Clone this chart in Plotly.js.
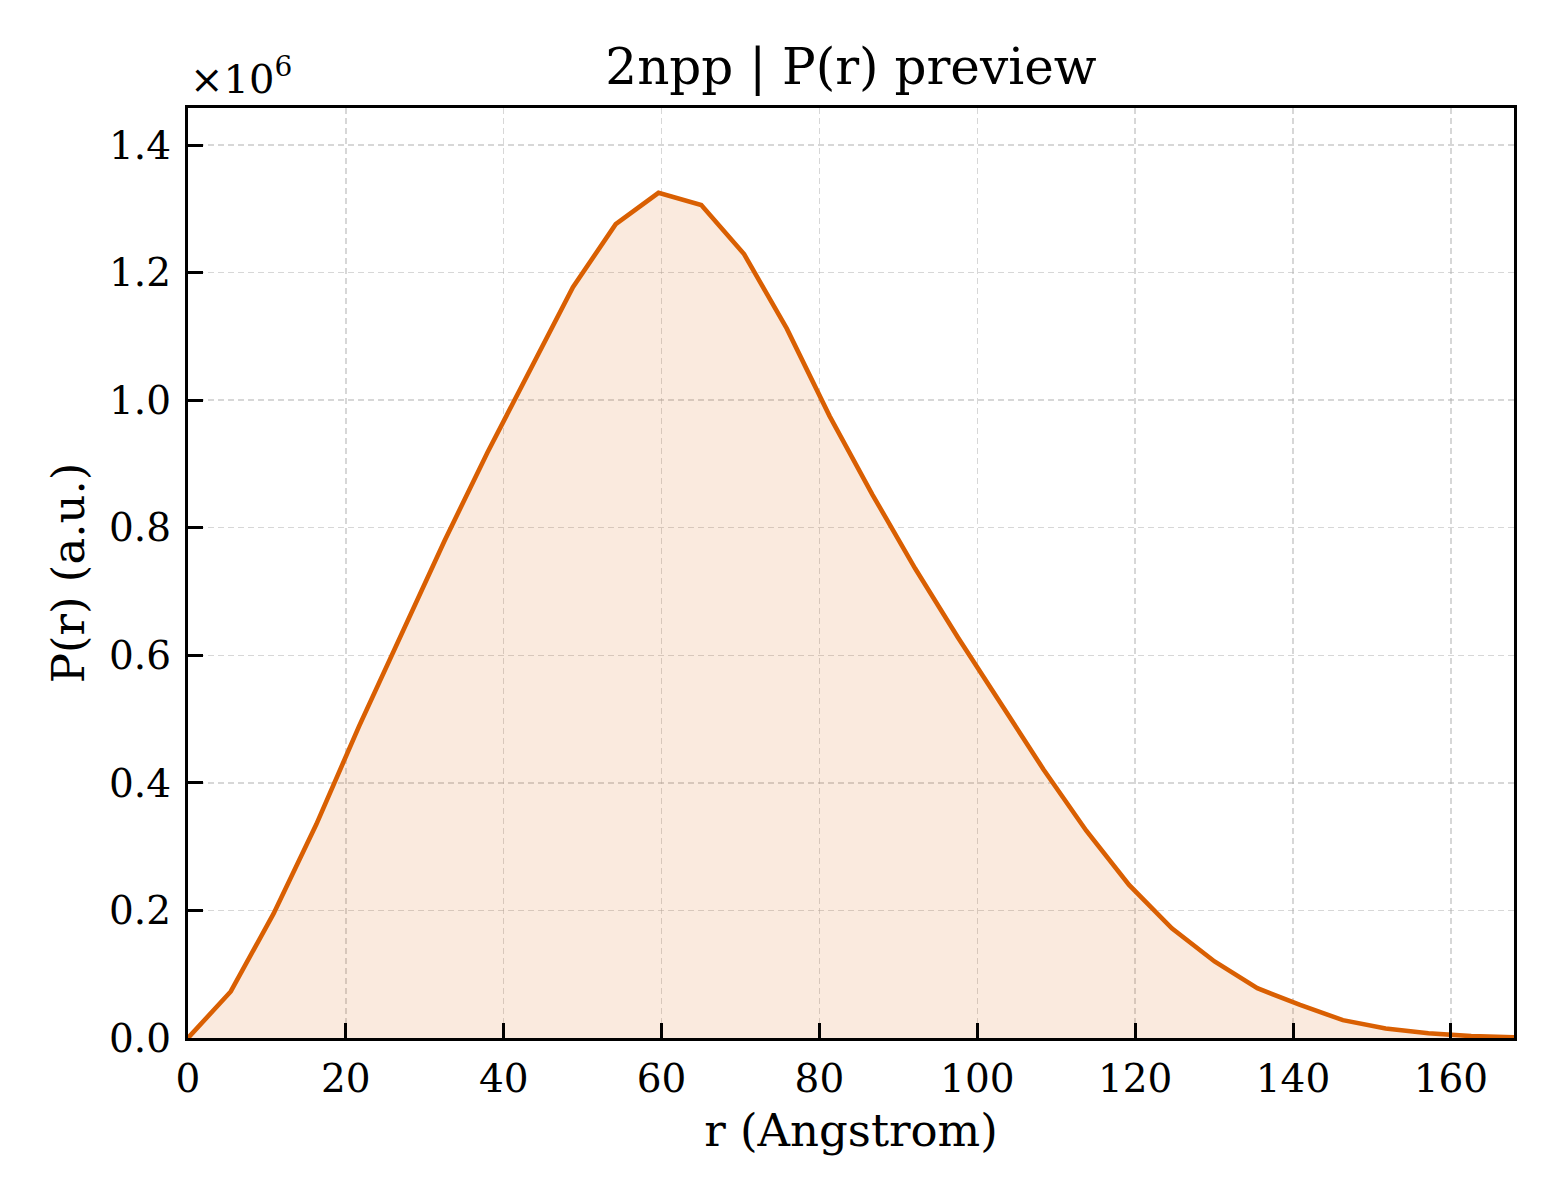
<!DOCTYPE html>
<html>
<head>
<meta charset="utf-8">
<script src="https://cdn.plot.ly/plotly-3.0.1.min.js"></script>
<style>html,body{margin:0;padding:0;background:#fff;}#chart{width:1560px;height:1200px;}</style>
</head>
<body>
<div id="chart"></div>
<script>
// r in Angstrom
const rValues = [0, 5.42, 10.84, 16.26, 21.68, 27.10, 32.52, 37.94, 43.35, 48.77, 54.19, 59.61, 65.03, 70.45, 75.87, 81.29, 86.71, 92.13, 97.55, 102.97, 108.39, 113.81, 119.23, 124.65, 130.06, 135.48, 140.90, 146.32, 151.74, 157.16, 162.58, 168.00];
// P(r) in a.u.
const pValues = [0, 73000, 195000, 335000, 489000, 635000, 780000, 918000, 1047000, 1177000, 1276000, 1325000, 1306000, 1229000, 1112000, 975000, 852000, 736000, 628000, 524000, 421000, 325000, 240000, 172000, 120000, 78000, 52000, 28000, 15000, 7400, 3000, 1000];
const yTickVals = [0, 200000, 400000, 600000, 800000, 1000000, 1200000, 1400000];
const yTickText = ['0.0', '0.2', '0.4', '0.6', '0.8', '1.0', '1.2', '1.4'];
const xTickVals = [0, 20, 40, 60, 80, 100, 120, 140, 160];
const titleText = '2npp | P(r) preview';
const xLabel = 'r (Angstrom)';
const yLabel = 'P(r) (a.u.)';
const offsetText = '×10<sup>6</sup>';

const FONT = 'DejaVu Serif, Liberation Serif, serif';

const trace = {
  x: rValues,
  y: pValues,
  type: 'scatter',
  mode: 'lines',
  line: {color: '#D95F02', width: 4.6},
  fill: 'tozeroy',
  fillcolor: 'rgba(217,95,2,0.13)',
  hoverinfo: 'skip'
};

const axisCommon = {
  showline: true,
  linecolor: '#000',
  linewidth: 3.2,
  mirror: true,
  ticks: 'inside',
  ticklen: 15,
  tickwidth: 3,
  tickcolor: '#000',
  showgrid: true,
  gridcolor: 'rgba(176,176,176,0.5)',
  gridwidth: 1.5,
  griddash: '6px,4px',
  zeroline: false,
  tickfont: {family: FONT, size: 39, color: '#000'}
};

const layout = {
  width: 1560,
  height: 1200,
  paper_bgcolor: '#fff',
  plot_bgcolor: '#fff',
  showlegend: false,
  margin: {l: 188, r: 46, t: 108, b: 162},
  title: {
    text: titleText,
    font: {family: FONT, size: 50, color: '#000'},
    x: 0.5455, xanchor: 'center',
    y: 0.945, yanchor: 'middle'
  },
  xaxis: Object.assign({}, axisCommon, {
    range: [0, 168],
    tickvals: xTickVals,
    ticktext: xTickVals.map(String),
    ticklabelstandoff: 4,
    title: {text: xLabel, font: {family: FONT, size: 45, color: '#000'}, standoff: 15}
  }),
  yaxis: Object.assign({}, axisCommon, {
    range: [0, 1458000],
    tickvals: yTickVals,
    ticktext: yTickText,
    ticklabelstandoff: 6,
    title: {text: yLabel, font: {family: FONT, size: 45, color: '#000'}, standoff: 11}
  }),
  annotations: [{
    text: offsetText,
    xref: 'paper', yref: 'paper',
    x: 0, y: 1,
    xanchor: 'left', yanchor: 'bottom',
    yshift: 4,
    showarrow: false,
    font: {family: FONT, size: 40, color: '#000'}
  }]
};

Plotly.newPlot('chart', [trace], layout, {displayModeBar: false, staticPlot: true});
</script>
</body>
</html>
